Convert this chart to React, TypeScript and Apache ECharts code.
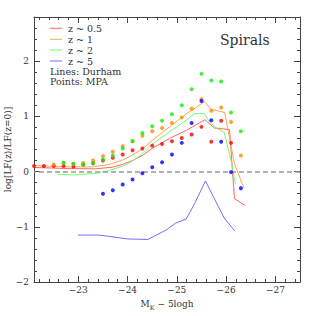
import React, { useEffect, useRef } from 'react';
import * as echarts from 'echarts';

// MPA points (magnitude grid)
const mpaMag = [-22.1, -22.3, -22.5, -22.7, -22.9, -23.1, -23.3, -23.5, -23.7, -23.9, -24.1, -24.3, -24.5, -24.7, -24.9, -25.1, -25.3, -25.5, -25.7, -25.9, -26.1, -26.3];
const mpaZ05 = [0.10, 0.10, 0.10, 0.10, 0.09, 0.13, 0.15, 0.20, 0.25, 0.31, 0.385, 0.42, 0.47, 0.50, 0.55, 0.61, 0.67, 0.81, 0.54, 0.92, 0.52, null];
const mpaZ1 = [null, null, 0.13, 0.16, 0.14, 0.155, 0.20, 0.28, 0.36, 0.46, 0.55, 0.65, 0.73, 0.79, 0.88, 0.98, 1.14, 1.31, 1.10, 1.16, 0.90, 0.29];
const mpaZ2 = [null, null, null, 0.16, 0.14, 0.13, 0.15, 0.22, 0.29, 0.42, 0.55, 0.70, 0.82, 0.92, 1.04, 1.20, 1.49, 1.77, 1.65, 1.63, 1.07, 0.73];
const mpaZ5 = [null, null, null, null, null, null, null, -0.40, -0.34, -0.235, -0.145, -0.03, 0.08, 0.17, 0.31, 0.52, 0.88, 1.28, 0.93, 0.54, -0.01, -0.30];

// Durham lines
const durZ05X = [-22.1, -22.75, -23.35, -23.7, -23.9, -24.1, -24.3, -24.5, -24.85, -25.2, -25.57, -25.76, -26.07, -26.17, -26.38];
const durZ05Y = [0.075, 0.055, 0.05, 0.08, 0.13, 0.2, 0.29, 0.42, 0.60, 0.75, 0.94, 0.79, 0.76, -0.49, -0.61];
const durZ1X = [-22.1, -22.75, -23.3, -23.63, -23.9, -24.1, -24.3, -24.51, -24.85, -25.2, -25.39, -25.56, -25.69, -25.83, -25.97, -26.17, -26.36];
const durZ1Y = [0.11, 0.085, 0.085, 0.13, 0.21, 0.30, 0.41, 0.57, 0.81, 1.05, 1.16, 1.27, 1.13, 1.10, 1.07, 0.145, -0.30];
const durZ2X = [-22.58, -22.96, -23.36, -23.63, -23.9, -24.1, -24.3, -24.51, -24.85, -25.19, -25.36, -25.56, -25.66, -25.82, -25.96, -26.10, -26.19];
const durZ2Y = [-0.05, -0.06, -0.03, 0.02, 0.10, 0.19, 0.32, 0.50, 0.72, 0.93, 1.05, 1.05, 0.90, 0.78, 0.71, 0.20, -0.23];
const durZ5X = [-22.99, -23.43, -24.0, -24.41, -24.78, -24.98, -25.19, -25.36, -25.58, -25.96, -26.18];
const durZ5Y = [-1.15, -1.15, -1.22, -1.23, -1.06, -0.93, -0.86, -0.58, -0.17, -0.84, -1.08];

const xMajorTicks = [-23, -24, -25, -26, -27];
const yMajorTicks = [-2, -1, 0, 1, 2];
const legendLabels = ['z ~ 0.5', 'z ~ 1', 'z ~ 2', 'z ~ 5'];
const lineColors = ['#ff6666', '#ffa64d', '#70ff70', '#7070ff'];
const pointColors = ['#ff0000', '#ff8800', '#11ee11', '#0000ff'];

const FONT = 'DejaVu Serif';
const AXC = '#444';
const TXT = '#333';

function buildMinor(from: number, to: number, step: number) {
  const out: number[] = [];
  for (let i = 0; from + i * step <= to + 1e-9; i++) out.push(Math.round((from + i * step) * 10) / 10);
  return out;
}
const xMinorTicks = buildMinor(-27.4, -22.2, 0.2);
const yMinorTicks = buildMinor(-1.8, 2.8, 0.2);

const fmt = (v: number) => String(v).replace('-', '\u2212');

export default function App() {
  const ref = useRef<HTMLDivElement>(null);
  useEffect(() => {
    const chart = echarts.init(ref.current!, null, { renderer: 'svg' });
    const xBase = { type: 'value', min: -27.5, max: -22.1, inverse: true, splitLine: { show: false }, gridIndex: 0 };
    const yBase = { type: 'value', min: -2, max: 2.8, splitLine: { show: false }, gridIndex: 0 };
    const mkAxis = (base: any, position: string, ticks: number[], len: number, line: boolean, labels: boolean, extra: any = {}) => ({
      ...base,
      position,
      axisLine: { show: line, onZero: false, lineStyle: { color: AXC, width: 1 } },
      axisTick: { show: true, inside: true, length: len, customValues: ticks, lineStyle: { color: AXC, width: 1 } },
      axisLabel: labels
        ? { show: true, customValues: ticks, formatter: fmt, fontFamily: FONT, fontSize: 9, color: TXT, margin: position === 'bottom' ? 3 : 5 }
        : { show: false },
      ...extra,
    });

    const pts = (vals: (number | null)[]) =>
      mpaMag.map((x, i) => (vals[i] == null ? null : [x, vals[i]])).filter((d) => d != null);
    const zip = (xs: number[], ys: number[]) => xs.map((x, i) => [x, ys[i]]);

    const lineSets = [
      [durZ05X, durZ05Y],
      [durZ1X, durZ1Y],
      [durZ2X, durZ2Y],
      [durZ5X, durZ5Y],
    ];
    const pointSets = [mpaZ05, mpaZ1, mpaZ2, mpaZ5];

    const series: any[] = [];
    lineSets.forEach(([xs, ys], i) => {
      const s: any = {
        type: 'line',
        name: legendLabels[i] + ' Durham',
        data: zip(xs, ys),
        symbol: 'none',
        lineStyle: { width: 1, color: lineColors[i] },
        itemStyle: { color: lineColors[i] },
        z: 2,
      };
      if (i === 0) {
        s.markLine = {
          silent: true,
          symbol: ['none', 'none'],
          label: { show: false },
          lineStyle: { type: [5, 3], color: '#999', width: 1.5 },
          data: [{ yAxis: 0 }],
        };
      }
      series.push(s);
    });
    pointSets.forEach((vals, i) => {
      series.push({
        type: 'scatter',
        name: legendLabels[i] + ' MPA',
        data: pts(vals),
        symbol: 'circle',
        symbolSize: 4,
        itemStyle: { color: pointColors[i] },
        z: 3 + i,
      });
    });

    const graphic: any[] = [];
    const legY = [28.3, 39.3, 50, 61];
    legendLabels.forEach((t, i) => {
      graphic.push({ type: 'line', shape: { x1: 50, y1: legY[i], x2: 62, y2: legY[i] }, style: { stroke: lineColors[i], lineWidth: 1 } });
      graphic.push({ type: 'text', x: 68, y: legY[i], style: { text: t, fontFamily: FONT, fontSize: 9.5, fill: TXT, verticalAlign: 'middle' } });
    });
    graphic.push({ type: 'text', x: 50, y: 71, style: { text: 'Lines: Durham', fontFamily: FONT, fontSize: 9.5, fill: TXT, verticalAlign: 'middle' } });
    graphic.push({ type: 'text', x: 50, y: 81, style: { text: 'Points: MPA', fontFamily: FONT, fontSize: 9.5, fill: TXT, verticalAlign: 'middle' } });
    graphic.push({ type: 'text', x: 220, y: 40, style: { text: 'Spirals', fontFamily: FONT, fontSize: 14, fill: TXT, verticalAlign: 'middle' } });

    chart.setOption({
      animation: false,
      backgroundColor: '#fff',
      grid: { left: 34, top: 17, width: 266, height: 265, containLabel: false, outerBoundsMode: 'none' },
      xAxis: [
        mkAxis(xBase, 'bottom', xMajorTicks, 6, true, true, {
          name: 'M{k|K} \u2212 5logh',
          nameLocation: 'middle',
          nameGap: 15,
          nameMoveOverlap: false,
          nameTextStyle: {
            fontFamily: FONT, fontSize: 9, color: TXT, lineHeight: 14,
            rich: { k: { fontFamily: FONT, fontSize: 6.5, color: TXT, verticalAlign: 'bottom', lineHeight: 8 } },
          },
        }),
        mkAxis(xBase, 'bottom', xMinorTicks, 3, false, false),
        mkAxis(xBase, 'top', xMajorTicks, 6, true, false),
        mkAxis(xBase, 'top', xMinorTicks, 3, false, false),
      ],
      yAxis: [
        mkAxis(yBase, 'left', yMajorTicks, 6, true, true, {
          name: 'log[LF(z)/LF(z=0)]',
          nameLocation: 'middle',
          nameGap: 22,
          nameMoveOverlap: false,
          nameTextStyle: { fontFamily: FONT, fontSize: 9, color: TXT },
        }),
        mkAxis(yBase, 'left', yMinorTicks, 3, false, false),
        mkAxis(yBase, 'right', yMajorTicks, 6, true, false),
        mkAxis(yBase, 'right', yMinorTicks, 3, false, false),
      ],
      series,
      graphic,
    });
    return () => chart.dispose();
  }, []);
  return <div ref={ref} style={{ position: 'fixed', left: 0, top: 0, width: 316, height: 316, background: '#fff' }} />;
}
